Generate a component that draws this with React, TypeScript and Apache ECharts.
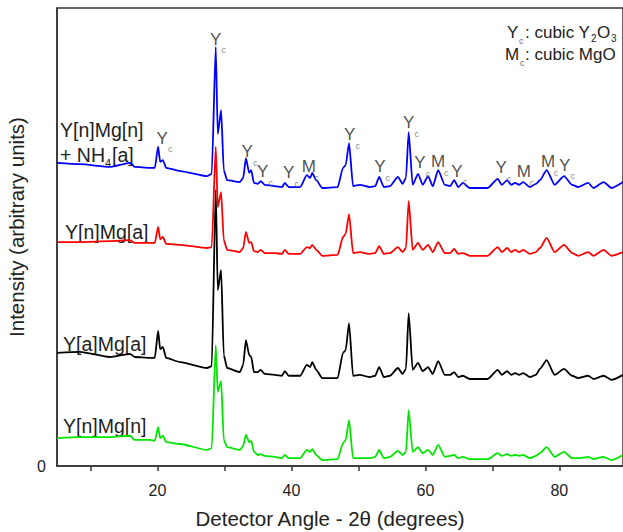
import { useEffect, useRef } from 'react';
import * as echarts from 'echarts';

// 2θ positions (degrees) shared by all four patterns
const twoTheta = [
  5.0, 8.4, 12.9, 15.9, 16.6, 18.9, 19.6, 20.1, 20.4, 20.8,
  21.3, 23.4, 27.4, 28.1, 28.7, 29.0, 29.5, 29.9, 30.4, 32.3,
  32.8, 33.2, 33.7, 34.0, 34.4, 35.0, 35.4, 36.0, 37.5, 38.6,
  39.0, 39.6, 41.3, 42.3, 42.8, 43.1, 43.7, 44.6, 46.9, 47.7,
  48.1, 48.6, 49.2, 50.2, 51.7, 52.5, 53.1, 53.8, 54.7, 55.9,
  56.6, 57.1, 57.5, 58.1, 58.9, 59.6, 60.4, 61.1, 61.9, 62.9,
  63.7, 64.3, 64.9, 65.6, 66.6, 69.3, 70.8, 71.4, 72.2, 72.8,
  73.4, 74.0, 74.6, 75.6, 76.5, 77.1, 78.1, 79.3, 80.7, 81.9,
  82.8, 84.3, 85.1, 86.6, 87.8, 89.5,
];

// Y[n]Mg[n] + NH4[a] (blue)
const intensityYnMgnNH4 = [
  66.2, 65.9, 65.3, 66.2, 65.3, 65.1, 65.1, 69.7, 66.4, 66.8,
  65.1, 64.4, 63.3, 63.8, 91.5, 72.5, 77.7, 64.6, 62.4, 62.0,
  62.9, 67.2, 64.0, 64.6, 61.8, 61.6, 62.2, 61.4, 61.1, 60.9,
  61.8, 60.9, 60.9, 63.5, 62.9, 64.0, 62.4, 60.7, 60.9, 65.1,
  65.7, 70.5, 61.1, 61.4, 60.9, 61.1, 63.1, 60.9, 61.1, 63.1,
  61.6, 62.9, 72.9, 61.4, 63.8, 61.4, 63.3, 61.1, 64.6, 61.4,
  61.1, 62.4, 60.9, 61.8, 60.7, 60.7, 62.7, 61.4, 62.4, 61.4,
  61.8, 61.4, 62.0, 60.9, 61.6, 62.4, 64.6, 61.4, 63.3, 61.4,
  60.9, 61.8, 60.7, 62.0, 60.7, 62.0,
];

// Y[n]Mg[a] (red)
const intensityYnMga = [
  48.9, 48.9, 49.1, 49.3, 48.7, 48.7, 48.7, 52.2, 49.5, 50.0,
  48.5, 48.3, 47.6, 47.8, 69.7, 56.5, 59.8, 49.3, 47.2, 46.7,
  47.6, 51.1, 48.7, 48.9, 46.9, 46.7, 47.2, 46.5, 46.5, 46.3,
  47.2, 46.3, 46.3, 47.8, 47.6, 48.3, 47.2, 45.9, 46.1, 50.0,
  50.7, 55.0, 46.5, 46.7, 46.3, 46.5, 48.0, 46.3, 46.5, 47.8,
  46.7, 47.6, 57.9, 47.2, 48.7, 47.2, 48.3, 46.7, 48.9, 46.5,
  46.5, 47.4, 46.3, 46.5, 45.9, 45.9, 47.8, 46.7, 47.6, 46.7,
  47.2, 46.7, 47.2, 46.3, 46.7, 47.6, 49.8, 46.7, 48.3, 46.5,
  45.9, 46.7, 45.9, 47.2, 45.9, 46.7,
];

// Y[a]Mg[a] (black)
const intensityYaMga = [
  24.7, 24.9, 23.8, 24.5, 23.8, 23.6, 23.6, 29.5, 25.5, 26.0,
  23.6, 22.7, 21.4, 21.8, 60.3, 38.4, 42.8, 24.2, 21.4, 20.5,
  22.1, 27.5, 24.2, 23.8, 20.5, 20.5, 21.0, 20.1, 19.9, 19.7,
  20.7, 19.7, 19.7, 22.1, 21.6, 22.7, 21.0, 19.2, 19.2, 24.7,
  25.3, 31.2, 19.7, 19.9, 19.4, 19.7, 21.6, 19.4, 19.7, 21.4,
  20.1, 21.2, 33.4, 21.0, 22.5, 20.7, 21.6, 20.1, 22.9, 19.9,
  19.9, 20.5, 19.4, 19.7, 19.0, 19.0, 21.0, 19.9, 20.7, 19.9,
  20.3, 19.9, 20.3, 19.4, 19.9, 21.2, 23.1, 19.9, 21.2, 19.7,
  19.2, 19.7, 19.0, 19.7, 18.8, 19.9,
];

// Y[n]Mg[n] (green)
const intensityYnMgn = [
  6.1, 6.3, 6.3, 6.6, 5.7, 5.7, 5.5, 8.5, 6.1, 6.6,
  5.2, 4.8, 3.5, 3.9, 26.4, 16.2, 18.6, 5.7, 4.1, 3.5,
  4.4, 6.8, 5.2, 5.5, 3.1, 2.4, 2.6, 2.2, 2.0, 1.7,
  2.4, 1.7, 1.7, 3.5, 3.1, 3.7, 2.4, 1.3, 1.5, 5.0,
  5.7, 10.0, 1.7, 1.7, 1.7, 2.0, 3.5, 1.7, 2.0, 3.3,
  2.4, 3.1, 12.2, 3.1, 4.1, 2.8, 3.5, 2.4, 4.6, 2.0,
  2.2, 2.4, 1.7, 2.0, 1.5, 1.5, 2.8, 2.2, 2.6, 2.2,
  2.4, 2.2, 2.4, 1.7, 2.2, 2.8, 4.1, 2.0, 3.1, 1.7,
  1.7, 2.0, 1.5, 2.0, 1.3, 2.4,
];

// Phase annotations above the blue pattern
const peakAngles = [20.7, 28.7, 33.4, 35.7, 39.6, 42.6, 48.7, 53.2, 57.5, 59.2, 61.9, 64.7, 71.3, 74.7, 78.3, 80.8];
const peakLabelHeights = [71.6, 93.2, 68.6, 64.2, 64.0, 65.3, 72.3, 65.3, 74.9, 66.2, 66.4, 64.4, 65.1, 64.2, 66.4, 65.7];
const peakPhases = ['Y', 'Y', 'Y', 'Y', 'Y', 'M', 'Y', 'Y', 'Y', 'Y', 'M', 'Y', 'Y', 'M', 'M', 'Y'];

const xTickValues = [10, 20, 30, 40, 50, 60, 70, 80];
const xLabelValues = [20, 40, 60, 80];

const FONT = '"Liberation Sans", Arial, Helvetica, sans-serif';
const TEXT = '#222';
const SUB = '#666';

function txt(x: number, y: number, text: string, fontSize: number, fill = TEXT, align = 'left') {
  return {
    type: 'text',
    x,
    y,
    silent: true,
    style: { text, fontSize, fontFamily: FONT, fill, align, textAlign: align, verticalAlign: 'middle', textVerticalAlign: 'middle' },
  };
}

export default function App() {
  const ref = useRef<HTMLDivElement>(null);

  useEffect(() => {
    const chart = echarts.init(ref.current!, null, { renderer: 'svg' });
    const pair = (ys: number[]) => twoTheta.map((x, i) => [x, ys[i]]);
    const annData = peakAngles.map((x, i) => ({ value: [x, peakLabelHeights[i]], name: peakPhases[i] }));

    const lineSeries = (name: string, ys: number[], color: string) => ({
      type: 'line',
      name,
      data: pair(ys),
      showSymbol: false,
      symbol: 'none',
      lineStyle: { color, width: 1.8 },
      smooth: 0.2,
      smoothMonotone: 'x',
      z: 2,
    });

    const yTitle = {
      type: 'text',
      x: 16,
      y: 227,
      rotation: Math.PI / 2,
      silent: true,
      style: { text: 'Intensity (arbitrary units)', fontSize: 20.5, fontFamily: FONT, fill: TEXT, align: 'center', textAlign: 'center', verticalAlign: 'middle', textVerticalAlign: 'middle' },
    };

    const option: any = {
      animation: false,
      backgroundColor: '#fff',
      grid: { left: 57, top: 8, right: -2, bottom: 66, show: true, borderColor: '#333', borderWidth: 1.5, containLabel: false },
      xAxis: {
        type: 'value',
        min: 5,
        max: 89.5,
        axisLine: { show: true, lineStyle: { color: '#333', width: 1.5 } },
        axisTick: { show: true, inside: false, length: 5, customValues: xTickValues, lineStyle: { color: '#333', width: 1.5 } },
        axisLabel: { show: true, customValues: xLabelValues, fontSize: 16, fontFamily: FONT, color: TEXT, margin: 16 },
        splitLine: { show: false },
      },
      yAxis: {
        type: 'value',
        min: 0,
        max: 100,
        interval: 100,
        axisLine: { show: true, lineStyle: { color: '#333', width: 1.5 } },
        axisTick: { show: false },
        axisLabel: { show: true, fontSize: 16, fontFamily: FONT, color: TEXT, margin: 11, formatter: (v: number) => (v === 0 ? '0' : '') },
        splitLine: { show: false },
      },
      series: [
        lineSeries('Y[n]Mg[n]', intensityYnMgn, '#00e600'),
        lineSeries('Y[a]Mg[a]', intensityYaMga, '#000000'),
        lineSeries('Y[n]Mg[a]', intensityYnMga, '#ff0000'),
        lineSeries('Y[n]Mg[n] + NH4[a]', intensityYnMgnNH4, '#0000ff'),
        {
          type: 'scatter',
          name: 'phase',
          data: annData,
          symbolSize: 0,
          silent: true,
          z: 5,
          label: { show: true, position: 'inside', formatter: (p: any) => p.name, fontSize: 17, fontFamily: FONT, color: TEXT },
        },
        {
          type: 'scatter',
          name: 'phase-sub',
          data: annData,
          symbolSize: 0,
          silent: true,
          z: 5,
          label: { show: true, position: 'inside', offset: [8, 11], formatter: () => 'c', fontSize: 9, fontFamily: FONT, color: SUB },
        },
      ],
      graphic: [
        // curve labels
        txt(60, 130, 'Y[n]Mg[n]', 19.5),
        txt(60, 155, '+ NH', 19.5),
        txt(105, 163, '4', 11),
        txt(112, 155, '[a]', 19.5),
        txt(65, 232, 'Y[n]Mg[a]', 19.5),
        txt(63, 344, 'Y[a]Mg[a]', 19.5),
        txt(63, 426, 'Y[n]Mg[n]', 19.5),
        // phase key
        txt(507, 32, 'Y', 17),
        txt(519, 41, 'c', 9, SUB),
        txt(525, 32, ': cubic Y', 17),
        txt(591, 38, '2', 10),
        txt(597, 32, 'O', 17),
        txt(611, 38, '3', 10),
        txt(505, 54, 'M', 17),
        txt(520, 63, 'c', 9, SUB),
        txt(525, 54, ': cubic MgO', 17),
        // axis titles
        txt(330, 518, 'Detector Angle - 2θ (degrees)', 20.5, TEXT, 'center'),
        yTitle,
      ],
    };

    chart.setOption(option);
    return () => chart.dispose();
  }, []);

  return <div ref={ref} style={{ position: 'absolute', left: 0, top: 0, width: 623, height: 532 }} />;
}
